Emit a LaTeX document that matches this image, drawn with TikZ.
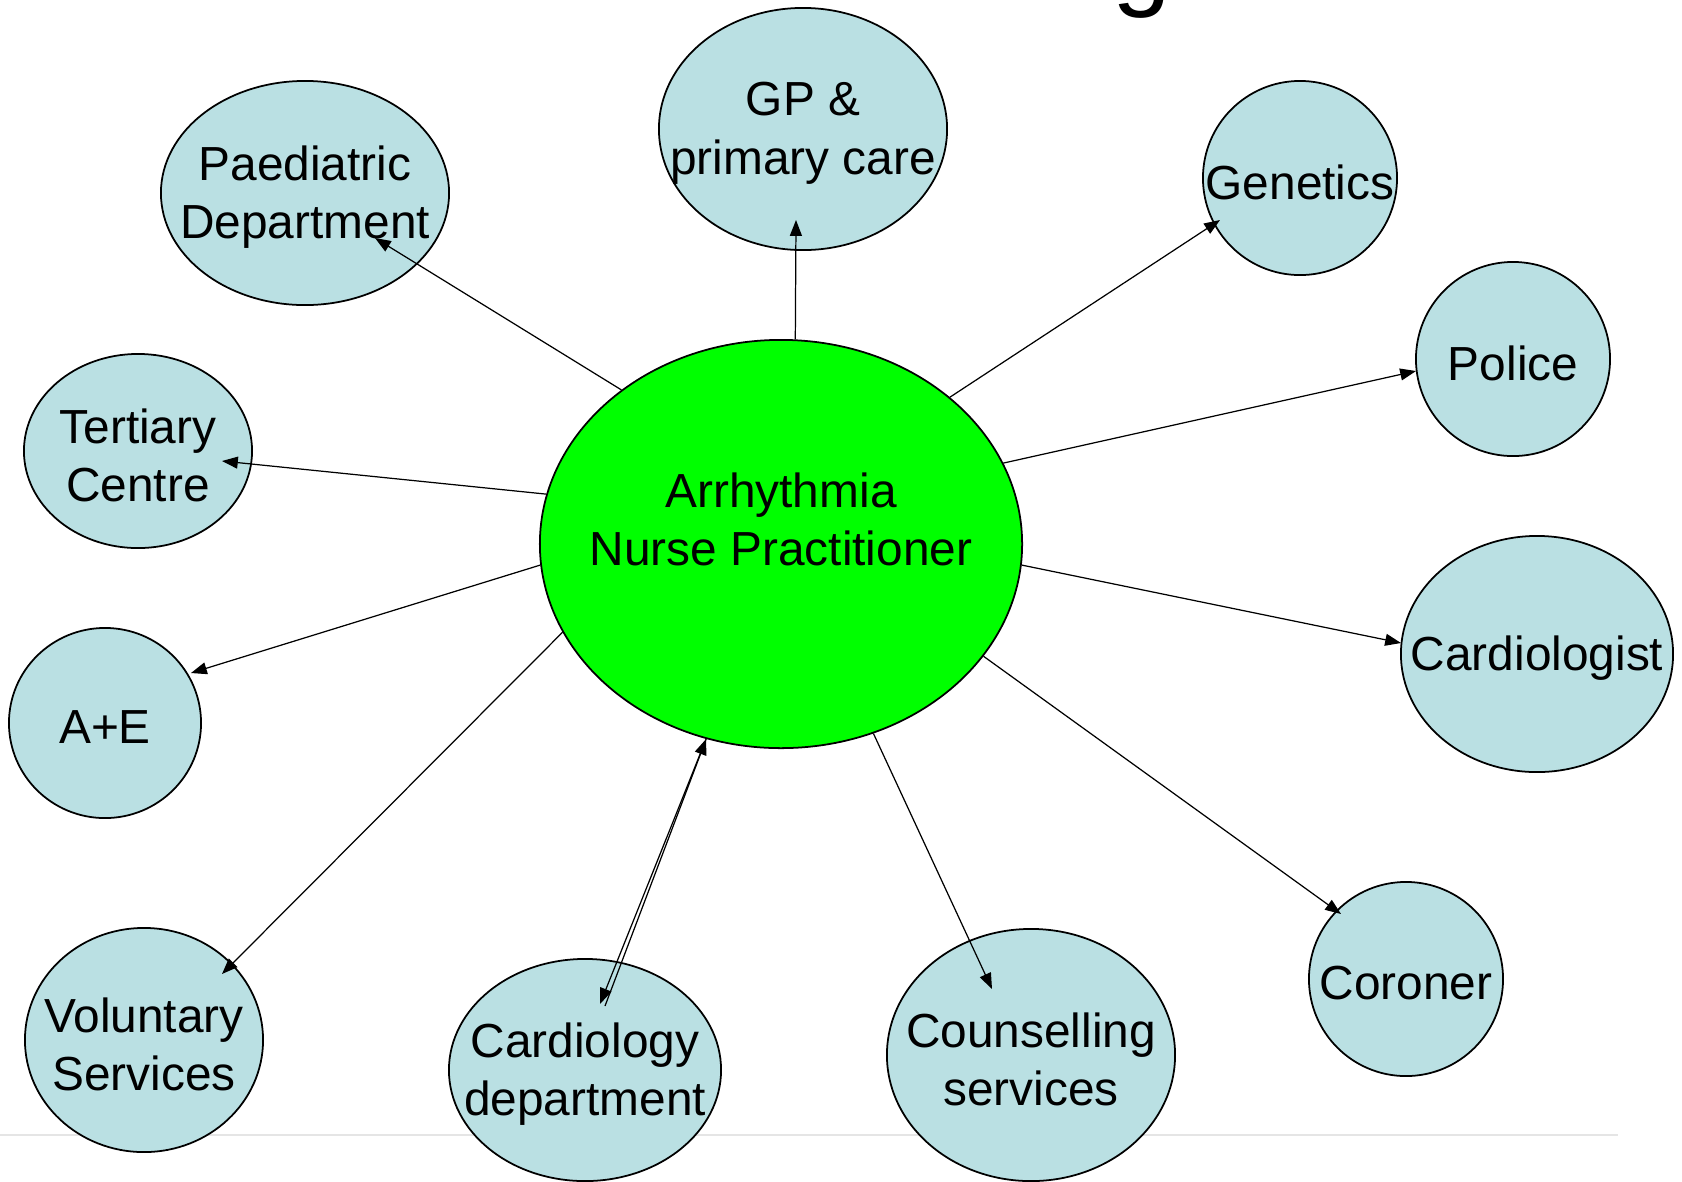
\documentclass[tikz,border=0pt]{standalone}
\usepackage{fontspec}
\setmainfont{Liberation Sans}
\usetikzlibrary{shapes.geometric}
\usetikzlibrary{arrows.meta}
\usetikzlibrary{calc}

\definecolor{paleblue}{RGB}{186,224,227}
\definecolor{nursegreen}{RGB}{0,255,0}

\tikzset{
  agency/.style={draw, ellipse, fill=paleblue, line width=0.5pt, inner sep=0pt},
  lbl/.style={align=center, inner sep=0pt, yshift=-1.2pt, font=\fontsize{13.6}{16.6}\selectfont},
  link/.style={->, >={Triangle[length=4.5pt,width=3.4pt]}, line width=0.35pt}
}

\begin{document}
\begin{tikzpicture}[x=0.01cm, y=-0.01cm]
  \useasboundingbox (0,0) rectangle (1682,1181);

  % Slide leftovers
  \draw[black!10, line width=0.6pt] (0,1135) -- (1618,1135);
  \node[anchor=base west, inner sep=0pt, font=\fontsize{30}{36}\selectfont] (titleg) at (1112,-4) {g};

  % Define nodes
  \node[agency, fill=nursegreen, minimum width=4.82cm, minimum height=4.08cm,
    label={[lbl]center:{Arrhythmia\\Nurse Practitioner\\\mbox{}}}] (nurse) at (781,544) {};
  \node[agency, minimum width=2.88cm, minimum height=2.42cm, label={[lbl]center:{GP \&\\primary care}}] (gp) at (803,129) {};
  \node[agency, minimum width=2.88cm, minimum height=2.24cm, label={[lbl]center:{Paediatric\\Department}}] (paed) at (305,193) {};
  \node[agency, minimum width=1.94cm, minimum height=1.94cm, label={[lbl]center:Genetics}] (genetics) at (1300,178) {};
  \node[agency, minimum width=1.94cm, minimum height=1.94cm, label={[lbl]center:Police}] (police) at (1513,359) {};
  \node[agency, minimum width=2.28cm, minimum height=1.94cm, label={[lbl]center:{Tertiary\\Centre}}] (tertiary) at (138,451) {};
  \node[agency, minimum width=1.92cm, minimum height=1.90cm, label={[lbl]center:A+E}] (ae) at (105,723) {};
  \node[agency, minimum width=2.72cm, minimum height=2.36cm, label={[lbl]center:Cardiologist}] (cardiologist) at (1537,654) {};
  \node[agency, minimum width=1.94cm, minimum height=1.94cm, label={[lbl]center:Coroner}] (coroner) at (1406,979) {};
  \node[agency, minimum width=2.38cm, minimum height=2.24cm, label={[lbl]center:{Voluntary\\Services}}] (voluntary) at (144,1040) {};
  \node[agency, minimum width=2.72cm, minimum height=2.22cm, label={[lbl]center:{Cardiology\\department}}] (carddept) at (585,1070) {};
  \node[agency, minimum width=2.88cm, minimum height=2.52cm, label={[lbl]center:{Counselling\\services}}] (counsel) at (1031,1055) {};

  % Connect the nodes
  \draw[link] (nurse.136) -- ($(paed)+(70,45)$);
  \draw[link] (nurse.86) -- ($(gp)+(-7,91)$);
  \draw[link] (nurse.41) -- ($(genetics)+(-80,42)$);
  \draw[link] (nurse.20) -- ($(police)+(-97,12)$);
  \draw[link] (nurse.168) -- ($(tertiary)+(84,10)$);
  \draw[link] (nurse.185) -- ($(ae)+(86,-50)$);
  \draw[link] (nurse.355) -- ($(cardiologist)+(-136,-11)$);
  \draw[link] (nurse.331) -- ($(coroner)+(-65,-65)$);
  \draw[link] (nurse.296) -- ($(counsel)+(-39,-66)$);
  \draw[link] (nurse.202) -- ($(voluntary)+(78,-66)$);
  \draw[link] (nurse.249) -- ($(carddept)+(15,-66)$);
  \draw[link] ($(carddept)+(20,-64)$) -- (nurse.249);

\end{tikzpicture}
\end{document}
